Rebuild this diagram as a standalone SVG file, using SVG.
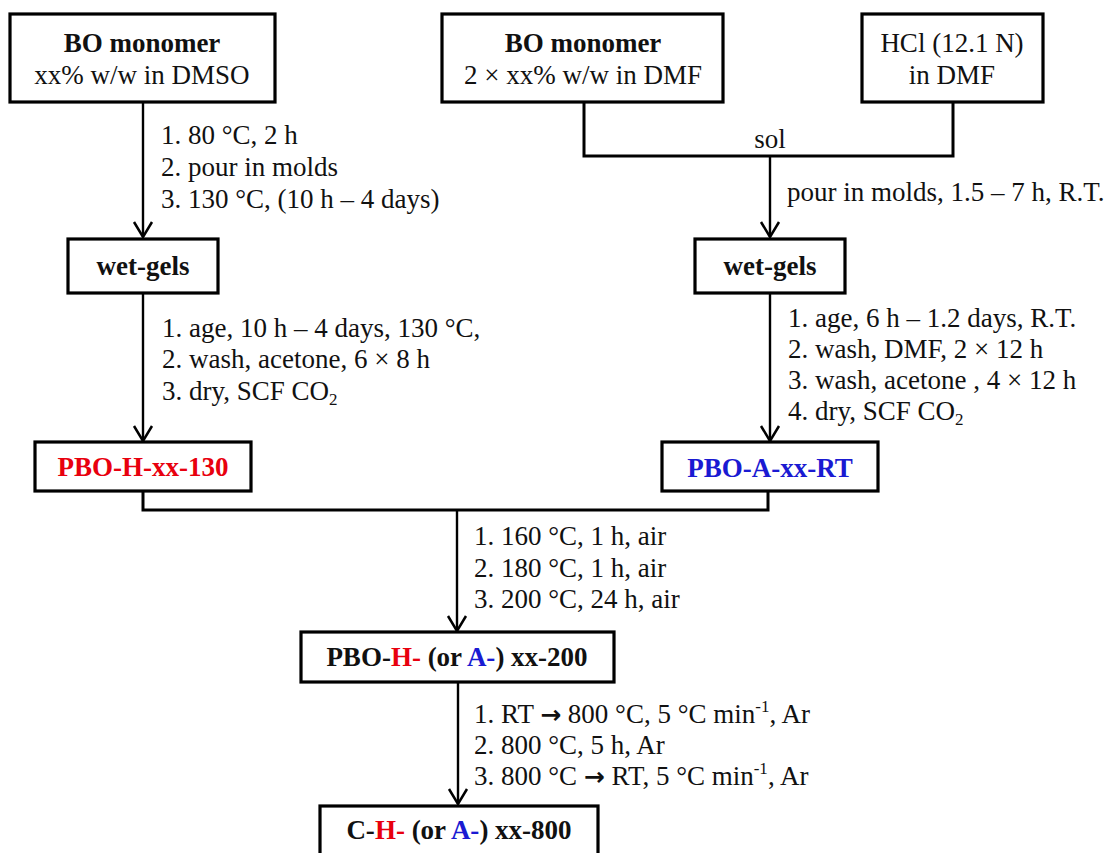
<svg xmlns="http://www.w3.org/2000/svg" width="1113" height="853" viewBox="0 0 1113 853" font-family="'Liberation Serif', 'DejaVu Serif', serif">
<style>
.box{fill:#fff;stroke:#000;stroke-width:3.2}
.ln{fill:none;stroke:#000;stroke-width:2.4}
.br{fill:none;stroke:#000;stroke-width:3}
text{font-family:'Liberation Serif','DejaVu Serif',serif;font-size:27px;fill:#111}
.b{font-weight:bold}
.c{text-anchor:middle}
.red{fill:#e8000e}
.blue{fill:#1a1ad2}
.sup{font-size:17px}
.ar{font-family:'DejaVu Sans',sans-serif;font-weight:bold;font-size:25px}
</style>
<defs>
<marker id="arr" markerUnits="userSpaceOnUse" viewBox="-18 -11 20 22" markerWidth="20" markerHeight="22" refX="0" refY="0" orient="auto">
<path d="M-15,-9 L0,0 L-15,9" fill="none" stroke="#000" stroke-width="2.5"/>
</marker>
</defs>

<g id="connectors">
<line class="ln" x1="143" y1="102" x2="143" y2="237" marker-end="url(#arr)"/>
<polyline class="br" points="584,102 584,156 953,156 953,102"/>
<line class="ln" x1="770" y1="156" x2="770" y2="237" marker-end="url(#arr)"/>
<line class="ln" x1="143" y1="293" x2="143" y2="441" marker-end="url(#arr)"/>
<line class="ln" x1="770" y1="293" x2="770" y2="441" marker-end="url(#arr)"/>
<polyline class="br" points="143,491 143,510 768,510 768,491"/>
<line class="ln" x1="457" y1="510" x2="457" y2="631" marker-end="url(#arr)"/>
<line class="ln" x1="458" y1="682" x2="458" y2="804" marker-end="url(#arr)"/>
</g>

<g id="labels">
<text x="161" y="144">1. 80 °C, 2 h</text>
<text x="161" y="176">2. pour in molds</text>
<text x="161" y="208">3. 130 °C, (10 h – 4 days)</text>
<text class="c" x="770" y="148">sol</text>
<text x="787" y="201">pour in molds, 1.5 – 7 h, R.T.</text>
<text x="162" y="337">1. age, 10 h – 4 days, 130 °C,</text>
<text x="162" y="368">2. wash, acetone, 6 × 8 h</text>
<text x="162" y="400">3. dry, SCF CO<tspan class="sup" dy="5">2</tspan></text>
<text x="788" y="327">1. age, 6 h – 1.2 days, R.T.</text>
<text x="788" y="358">2. wash, DMF, 2 × 12 h</text>
<text x="788" y="389">3. wash, acetone , 4 × 12 h</text>
<text x="788" y="420">4. dry, SCF CO<tspan class="sup" dy="5">2</tspan></text>
<text x="474" y="545">1. 160 °C, 1 h, air</text>
<text x="474" y="577">2. 180 °C, 1 h, air</text>
<text x="474" y="608">3. 200 °C, 24 h, air</text>
<text x="474" y="723">1. RT <tspan class="ar">→</tspan> 800 °C, 5 °C min<tspan class="sup" dy="-11">-1</tspan><tspan dy="11">, Ar</tspan></text>
<text x="474" y="754">2. 800 °C, 5 h, Ar</text>
<text x="474" y="785">3. 800 °C <tspan class="ar">→</tspan> RT, 5 °C min<tspan class="sup" dy="-11">-1</tspan><tspan dy="11">, Ar</tspan></text>
</g>

<g id="n-bo-dmso">
<rect class="box" x="10" y="14" width="265" height="88"/>
<text class="b c" x="142" y="52">BO monomer</text>
<text class="c" x="142" y="84">xx% w/w in DMSO</text>
</g>
<g id="n-bo-dmf">
<rect class="box" x="442" y="14" width="281" height="88"/>
<text class="b c" x="583" y="52">BO monomer</text>
<text class="c" x="583" y="84">2 × xx% w/w in DMF</text>
</g>
<g id="n-hcl">
<rect class="box" x="862" y="14" width="181" height="88"/>
<text class="c" x="952" y="52">HCl (12.1 N)</text>
<text class="c" x="952" y="84">in DMF</text>
</g>
<g id="n-wet-left">
<rect class="box" x="68" y="239" width="150" height="54"/>
<text class="b c" x="143" y="275">wet-gels</text>
</g>
<g id="n-wet-right">
<rect class="box" x="695" y="239" width="150" height="54"/>
<text class="b c" x="770" y="275">wet-gels</text>
</g>
<g id="n-pbo-h-130">
<rect class="box" x="35" y="442" width="216" height="49"/>
<text class="b c red" x="143" y="476">PBO-H-xx-130</text>
</g>
<g id="n-pbo-a-rt">
<rect class="box" x="662" y="442" width="216" height="49"/>
<text class="b c blue" x="770" y="477">PBO-A-xx-RT</text>
</g>
<g id="n-pbo-200">
<rect class="box" x="301" y="632" width="313" height="50"/>
<text class="b c" x="457" y="666">PBO-<tspan class="red">H-</tspan> (or <tspan class="blue">A-</tspan>) xx-200</text>
</g>
<g id="n-c-800">
<rect class="box" x="320" y="806" width="278" height="60"/>
<text class="b c" x="459" y="839">C-<tspan class="red">H-</tspan> (or <tspan class="blue">A-</tspan>) xx-800</text>
</g>
</svg>
